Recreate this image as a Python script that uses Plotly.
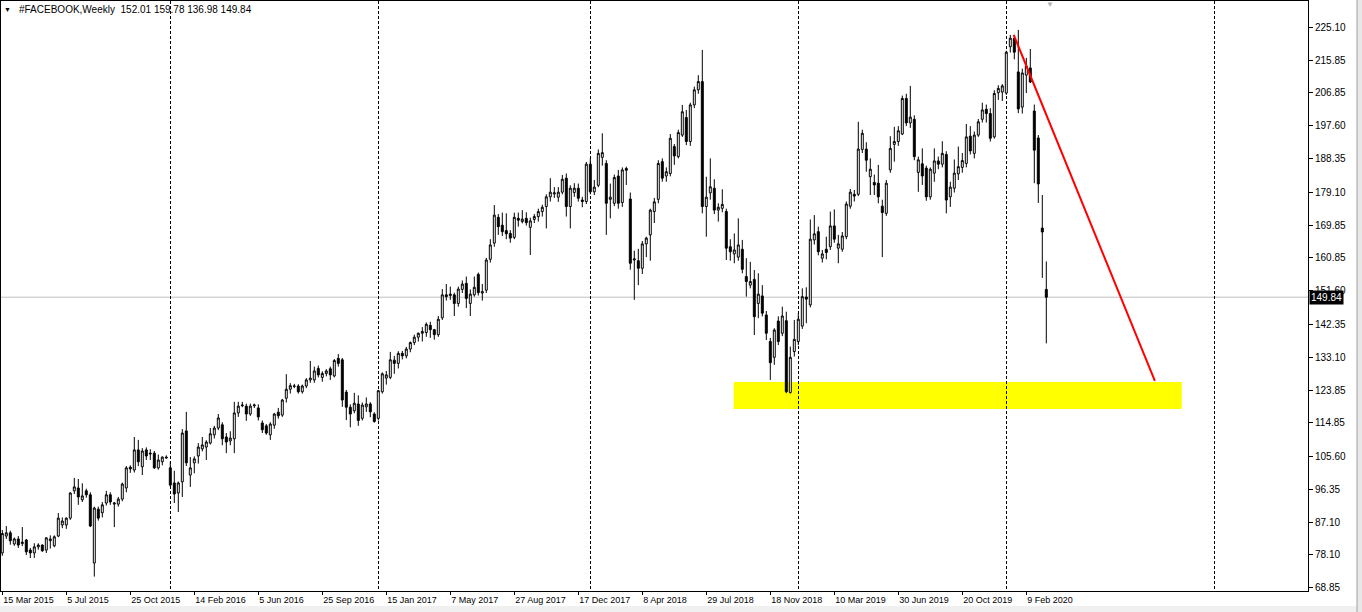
import numpy as np
import pandas as pd
import plotly.graph_objects as go

# ---------------- data (weekly bars, first bar = week of 15 Mar 2015) ----------------
first_bar = "2015-03-15"

opens = [78.6, 83.3, 84.2, 81.1, 82.5, 81.2, 82.2, 79.4, 78.6, 80.3,
         80.8, 79.4, 82.0, 80.6, 83.3, 86.4, 86.4, 88.3, 95.9, 96.7,
         93.4, 95.9, 94.8, 75.8, 90.8, 89.8, 92.5, 94.8, 92.2, 92.2,
         93.6, 96.7, 102.5, 101.7, 107.3, 102.6, 107.3, 106.4, 106.4, 102.3,
         104.0, 105.3, 102.3, 98.1, 95.3, 98.4, 112.6, 100.3, 103.7, 105.6,
         107.6, 108.1, 109.2, 111.5, 113.4, 114.3, 110.9, 109.8, 110.4, 117.6,
         119.6, 119.5, 117.3, 119.6, 119.0, 114.8, 114.0, 111.5, 114.2, 117.8,
         117.0, 121.7, 124.2, 125.0, 125.1, 123.5, 125.1, 126.8, 126.8, 130.0,
         127.5, 128.6, 129.9, 127.9, 132.8, 132.4, 123.4, 119.2, 118.2, 120.1,
         116.1, 119.3, 120.1, 117.3, 116.1, 123.5, 127.3, 127.5, 132.3, 131.4,
         134.2, 133.5, 135.4, 137.2, 138.7, 139.8, 140.0, 142.0, 140.8, 139.4,
         144.1, 150.5, 150.3, 150.5, 148.1, 152.0, 153.7, 148.1, 150.5, 156.2,
         151.0, 151.8, 160.4, 164.9, 172.1, 169.9, 168.4, 167.6, 166.5, 171.8,
         170.9, 171.8, 169.3, 171.5, 172.3, 173.7, 175.1, 177.8, 178.6, 177.7,
         179.1, 183.0, 175.1, 179.0, 180.2, 176.9, 176.5, 186.9, 179.2, 181.0,
         188.8, 187.1, 177.1, 176.0, 183.6, 176.2, 185.7, 177.2, 160.2, 160.0,
         157.9, 164.7, 167.2, 173.7, 177.1, 187.6, 183.6, 184.3, 191.8, 189.0,
         195.0, 199.9, 193.2, 203.4, 207.6, 209.9, 175.1, 178.9, 180.2, 174.1,
         174.6, 173.7, 163.9, 161.9, 161.0, 163.2, 155.6, 153.2, 154.8, 148.1,
         150.2, 144.9, 137.5, 133.1, 143.2, 139.8, 143.3, 123.3, 134.7, 137.5,
         141.8, 149.9, 147.7, 165.8, 168.1, 160.7, 163.2, 163.9, 169.7, 163.5,
         163.2, 166.7, 175.2, 178.5, 178.5, 191.0, 191.1, 183.4, 181.8, 181.6,
         175.2, 173.2, 185.3, 192.4, 193.2, 195.3, 205.2, 198.4, 199.4, 184.6,
         187.0, 185.8, 177.8, 184.4, 187.8, 186.9, 189.6, 177.8, 180.2, 184.2,
         186.0, 187.1, 194.7, 189.9, 195.0, 199.4, 202.2, 201.0, 194.5, 206.8,
         207.0, 206.7, 219.6, 221.9, 212.6, 202.8, 211.7, 213.7, 201.7, 194.2,
         169.1, 152.01]

highs = [85.0, 86.1, 84.8, 82.9, 83.3, 85.8, 82.5, 80.0, 81.3, 81.3,
         81.0, 83.0, 83.5, 83.5, 89.7, 88.5, 88.5, 95.5, 99.5, 99.2,
         98.0, 96.5, 95.5, 91.5, 91.5, 92.8, 95.9, 95.5, 92.8, 94.2,
         98.2, 102.8, 103.0, 110.9, 110.1, 107.8, 108.0, 107.5, 107.0, 106.0,
         105.5, 105.8, 104.0, 101.5, 98.5, 113.1, 117.9, 105.3, 105.5, 109.2,
         110.9, 110.0, 113.4, 114.0, 117.3, 115.0, 112.0, 112.5, 120.7, 120.7,
         120.7, 120.2, 120.2, 120.2, 120.0, 115.5, 114.5, 115.0, 117.6, 119.0,
         121.5, 128.4, 125.9, 125.7, 125.6, 125.5, 127.3, 132.1, 130.5, 130.8,
         129.2, 129.8, 130.5, 132.6, 134.0, 132.9, 124.0, 120.0, 123.2, 122.5,
         120.5, 121.9, 120.6, 117.8, 124.0, 128.9, 129.3, 134.6, 133.5, 134.8,
         134.9, 136.0, 137.5, 139.4, 140.0, 141.5, 142.8, 143.0, 141.0, 144.6,
         152.1, 153.5, 152.8, 151.1, 152.8, 154.5, 155.6, 152.0, 155.6, 156.7,
         153.5, 160.8, 166.0, 175.5, 173.0, 173.4, 173.2, 168.5, 173.4, 173.4,
         174.1, 173.5, 172.0, 173.0, 174.5, 175.6, 178.5, 183.0, 180.5, 180.5,
         183.9, 184.3, 181.0, 181.6, 181.5, 177.8, 187.5, 188.5, 182.5, 191.0,
         195.5, 188.0, 181.5, 184.0, 185.3, 186.0, 186.2, 179.0, 162.8, 163.3,
         165.5, 166.7, 174.5, 177.5, 188.0, 188.5, 186.0, 195.3, 192.5, 196.5,
         203.4, 202.0, 204.0, 208.5, 211.7, 218.7, 183.4, 188.5, 182.7, 176.0,
         179.9, 174.5, 166.0, 167.6, 171.8, 165.8, 160.7, 159.7, 157.4, 156.5,
         153.2, 146.0, 138.5, 141.2, 144.5, 147.2, 145.8, 136.1, 143.5, 145.4,
         152.3, 152.6, 171.5, 172.7, 169.5, 163.0, 166.7, 173.7, 174.3, 167.2,
         168.0, 176.5, 180.0, 179.7, 198.7, 196.5, 193.0, 188.5, 184.0, 186.7,
         177.0, 182.5, 194.7, 197.3, 197.5, 206.0, 206.5, 208.7, 200.5, 189.0,
         191.3, 186.5, 186.0, 191.3, 189.0, 193.3, 190.5, 182.0, 188.2, 191.8,
         190.0, 198.1, 197.5, 196.0, 199.5, 204.0, 203.5, 202.5, 207.5, 208.9,
         209.2, 218.5, 222.9, 222.9, 224.3, 213.5, 216.5, 219.0, 203.5, 195.0,
         178.3, 159.78]

lows = [77.8, 82.5, 80.9, 80.6, 80.0, 80.5, 78.0, 77.2, 77.2, 79.5,
        78.9, 78.6, 79.8, 80.2, 83.0, 85.5, 85.3, 87.8, 95.0, 92.0,
        92.8, 94.0, 85.8, 72.0, 87.6, 88.5, 91.8, 92.0, 85.8, 91.5,
        93.0, 95.5, 100.9, 101.0, 102.8, 100.3, 104.5, 104.5, 102.0, 101.8,
        103.0, 104.8, 97.0, 92.5, 90.0, 94.2, 102.8, 97.0, 100.8, 103.5,
        106.9, 104.5, 108.8, 110.5, 112.8, 108.6, 106.4, 108.6, 106.4, 116.5,
        119.2, 115.4, 116.8, 119.0, 115.5, 112.0, 111.5, 110.1, 113.2, 116.0,
        116.5, 120.5, 123.0, 124.5, 123.0, 123.0, 124.5, 126.0, 126.0, 127.5,
        126.3, 127.8, 126.8, 127.5, 130.5, 119.3, 115.6, 113.6, 117.5, 114.0,
        115.5, 117.9, 116.4, 114.9, 115.5, 123.0, 125.5, 127.0, 128.5, 130.0,
        132.5, 132.8, 134.5, 136.5, 137.5, 137.5, 138.8, 138.5, 138.0, 138.8,
        143.5, 148.9, 149.1, 144.6, 147.2, 151.0, 146.8, 144.6, 150.0, 150.3,
        148.9, 151.0, 159.5, 163.9, 167.2, 166.9, 166.0, 165.0, 166.0, 169.5,
        170.4, 169.8, 161.6, 170.5, 170.9, 172.3, 169.0, 176.5, 177.5, 176.4,
        178.5, 172.3, 169.0, 177.8, 176.5, 174.9, 175.8, 178.5, 178.3, 180.5,
        186.5, 167.2, 171.8, 175.2, 174.5, 175.0, 181.1, 157.5, 149.1, 153.2,
        156.3, 161.0, 160.0, 170.5, 176.0, 182.0, 182.0, 183.5, 186.7, 188.5,
        194.5, 192.2, 192.0, 202.5, 206.5, 173.2, 166.7, 177.0, 173.0, 170.9,
        173.5, 160.2, 160.0, 159.3, 160.0, 156.5, 150.0, 152.3, 139.3, 144.0,
        144.5, 137.9, 126.8, 131.0, 136.5, 139.0, 123.1, 123.0, 133.3, 136.5,
        141.0, 142.6, 147.0, 164.5, 161.5, 159.5, 160.4, 163.0, 165.0, 159.3,
        162.5, 166.0, 174.5, 176.5, 178.0, 190.0, 184.8, 178.3, 178.3, 176.0,
        161.0, 172.5, 184.5, 187.6, 192.0, 195.0, 197.5, 197.0, 188.0, 179.2,
        181.1, 176.7, 177.0, 182.0, 185.5, 186.0, 173.2, 175.0, 179.0, 182.5,
        184.5, 186.0, 189.6, 188.5, 194.5, 198.5, 198.5, 193.2, 194.0, 204.8,
        204.5, 206.2, 218.0, 216.1, 201.1, 201.0, 206.7, 209.5, 181.6, 176.1,
        155.2, 136.98]

closes = [84.0, 84.2, 82.0, 82.5, 80.8, 81.6, 78.9, 78.6, 80.3, 80.8,
          79.2, 82.8, 82.5, 83.1, 88.3, 87.5, 88.3, 95.3, 97.0, 94.2,
          94.5, 94.8, 86.1, 91.1, 88.3, 92.0, 94.8, 92.8, 92.5, 93.6,
          97.8, 102.3, 102.0, 107.3, 104.0, 107.0, 105.6, 106.2, 102.3, 104.5,
          105.3, 105.1, 97.5, 95.0, 98.1, 112.0, 103.7, 102.3, 104.8, 108.1,
          108.7, 109.5, 111.8, 113.4, 116.2, 110.4, 109.5, 110.6, 117.6, 119.5,
          119.8, 117.3, 119.5, 119.8, 116.5, 112.9, 112.0, 114.5, 117.3, 116.8,
          121.2, 124.2, 125.2, 125.1, 123.5, 125.1, 126.8, 127.3, 129.3, 128.2,
          128.6, 129.3, 128.2, 132.2, 131.4, 121.2, 119.2, 117.3, 120.3, 115.5,
          119.8, 120.1, 117.9, 115.2, 123.8, 128.5, 128.2, 132.4, 131.4, 134.2,
          133.5, 135.4, 137.2, 138.7, 139.8, 140.3, 142.3, 140.8, 139.4, 143.7,
          150.5, 150.0, 150.7, 148.1, 152.1, 153.5, 149.5, 150.7, 152.6, 151.1,
          151.4, 160.2, 164.4, 172.7, 169.5, 168.1, 167.5, 166.3, 172.1, 171.3,
          171.6, 170.6, 171.1, 172.3, 173.7, 174.9, 177.8, 179.1, 178.9, 179.1,
          182.7, 175.1, 180.2, 180.2, 177.4, 176.5, 186.9, 179.2, 180.5, 189.9,
          190.1, 176.0, 177.7, 183.2, 176.0, 185.3, 185.2, 159.3, 160.5, 157.9,
          164.7, 166.3, 174.1, 176.4, 187.1, 183.0, 184.8, 194.1, 189.2, 195.7,
          201.5, 193.2, 203.4, 207.6, 209.9, 175.1, 177.7, 180.6, 174.1, 174.9,
          175.7, 163.5, 162.5, 163.0, 164.4, 157.6, 154.2, 154.2, 144.4, 150.7,
          145.4, 139.8, 131.6, 140.7, 137.5, 144.6, 123.5, 133.1, 138.1, 143.7,
          150.0, 149.3, 166.0, 167.5, 162.5, 161.9, 162.3, 169.7, 166.0, 164.7,
          166.9, 175.8, 179.1, 178.0, 191.1, 195.5, 188.0, 185.5, 181.1, 177.8,
          173.4, 181.6, 191.3, 193.2, 196.2, 205.2, 198.4, 200.0, 189.0, 188.1,
          183.6, 177.8, 185.5, 187.8, 186.9, 189.9, 176.9, 180.5, 184.4, 186.2,
          187.9, 194.5, 190.6, 195.0, 198.7, 202.0, 201.0, 194.1, 206.6, 208.0,
          208.7, 218.1, 222.0, 218.1, 202.3, 212.3, 214.2, 209.8, 190.8, 181.4,
          168.0, 149.84]

x_tick_labels = ["15 Mar 2015", "5 Jul 2015", "25 Oct 2015", "14 Feb 2016", "5 Jun 2016",
                 "25 Sep 2016", "15 Jan 2017", "7 May 2017", "27 Aug 2017", "17 Dec 2017",
                 "8 Apr 2018", "29 Jul 2018", "18 Nov 2018", "10 Mar 2019", "30 Jun 2019",
                 "20 Oct 2019", "9 Feb 2020"]
x_tick_step = 16

y_tick_vals = [225.10, 215.85, 206.85, 197.60, 188.35, 179.10, 169.85, 160.85, 151.60,
               142.35, 133.10, 123.85, 114.85, 105.60, 96.35, 87.10, 78.10, 68.85]
y_tick_text = ["225.10", "215.85", "206.85", "197.60", "188.35", "179.10", "169.85", "160.85",
               "151.60", "142.35", "133.10", "123.85", "114.85", "105.60", "96.35", "87.10",
               "78.10", "68.85"]

year_separators = ["2016-01-03", "2017-01-01", "2018-01-07", "2019-01-06", "2020-01-05", "2021-01-03"]

last_price = 149.84
title_text = "#FACEBOOK,Weekly  152.01 159.78 136.98 149.84"

support_zone_dates = ["2018-09-15", "2020-11-07"]
support_zone_prices = [118.7, 126.2]
trend_dates = ["2020-01-18", "2020-09-21"]
trend_prices = [222.9, 126.5]

# ---------------- build ----------------
n = len(closes)
assert len(opens) == len(highs) == len(lows) == n == 262
base = pd.Timestamp(first_bar)
dates = [base + pd.Timedelta(days=7 * i) for i in range(n)]

W, H = 1362, 612
ml, mr, mt, mb = 1, 54, 1, 21
plot_w = W - ml - mr
plot_h = H - mt - mb
bar_px = 4.0
first_bar_px = 2.3
i_left = (ml - first_bar_px) / bar_px
i_right = (ml + plot_w - first_bar_px) / bar_px
x_range = [base + pd.Timedelta(days=7 * i_left), base + pd.Timedelta(days=7 * i_right)]
y_range = [68.0, 232.35]

FONT = "Liberation Sans, Arial, sans-serif"

fig = go.Figure()
fig.add_trace(go.Candlestick(
    x=dates, open=opens, high=highs, low=lows, close=closes,
    increasing=dict(fillcolor="white", line=dict(color="black", width=1)),
    decreasing=dict(fillcolor="black", line=dict(color="black", width=1)),
    whiskerwidth=0, hoverinfo="skip", showlegend=False,
))

# yellow zone
fig.add_shape(type="rect", xref="x", yref="y",
              x0=support_zone_dates[0], x1=support_zone_dates[1],
              y0=support_zone_prices[0], y1=support_zone_prices[1],
              fillcolor="#ffff00", line=dict(width=0), layer="below")
# bid line
fig.add_shape(type="line", xref="paper", yref="y", x0=0, x1=1,
              y0=last_price, y1=last_price, line=dict(color="#c0c0c0", width=1), layer="below")
# red trend line
fig.add_shape(type="line", xref="x", yref="y",
              x0=trend_dates[0], y0=trend_prices[0], x1=trend_dates[1], y1=trend_prices[1],
              line=dict(color="#ff0000", width=2), layer="above")

tick_dates = [dates[i] for i in range(0, n, x_tick_step)][:len(x_tick_labels)]

fig.update_layout(
    width=W, height=H,
    margin=dict(l=ml, r=mr, t=mt, b=mb, pad=0, autoexpand=False),
    paper_bgcolor="white", plot_bgcolor="white",
    font=dict(family=FONT, size=10, color="black"),
    showlegend=False,
    xaxis=dict(
        type="date", range=x_range, rangeslider=dict(visible=False),
        tickmode="array", tickvals=tick_dates, ticktext=x_tick_labels,
        tickangle=0, automargin=False,
        ticks="outside", ticklen=3, tickcolor="black", tickwidth=1,
        ticklabelposition="outside right",
        showgrid=False, zeroline=False,
        showline=True, linecolor="black", linewidth=1, mirror=True,
        tickfont=dict(family=FONT, size=9, color="black"),
        minor=dict(tickmode="array", tickvals=year_separators, showgrid=True,
                   gridcolor="black", gridwidth=1, griddash="3px,2px", ticks=""),
    ),
    yaxis=dict(
        side="right", range=y_range, automargin=False,
        tickmode="array", tickvals=y_tick_vals, ticktext=y_tick_text,
        ticks="outside", ticklen=4, tickcolor="black", tickwidth=1,
        showgrid=False, zeroline=False,
        showline=True, linecolor="black", linewidth=1, mirror=True,
        tickfont=dict(family=FONT, size=10, color="black"),
    ),
)

def px_to_paper_x(px):
    return (px - ml) / plot_w

def px_to_paper_y(py):
    return (H - mb - py) / plot_h

# title + icon
fig.add_annotation(xref="paper", yref="paper", x=px_to_paper_x(17), y=px_to_paper_y(9),
                   xanchor="left", yanchor="middle", showarrow=False,
                   text=title_text, font=dict(family=FONT, size=10, color="black"))
fig.add_annotation(xref="paper", yref="paper", x=px_to_paper_x(7), y=px_to_paper_y(9),
                   xanchor="center", yanchor="middle", showarrow=False,
                   text="▼", font=dict(family=FONT, size=7, color="black"))
# chart shift marker
fig.add_annotation(xref="paper", yref="paper", x=px_to_paper_x(1050), y=px_to_paper_y(4),
                   xanchor="center", yanchor="middle", showarrow=False,
                   text="▼", font=dict(family=FONT, size=8, color="#b4b4b4"))
# last price box
fig.add_annotation(xref="paper", yref="y", x=1, y=last_price, xshift=1,
                   xanchor="left", yanchor="middle", showarrow=False,
                   text=f"{last_price:.2f}", bgcolor="black", borderpad=1,
                   font=dict(family=FONT, size=10, color="white"))

# window frame strips (bottom and right)
fig.add_shape(type="rect", xref="paper", yref="paper",
              x0=px_to_paper_x(0), x1=px_to_paper_x(W), y0=px_to_paper_y(606), y1=px_to_paper_y(H),
              fillcolor="#f0f0f0", line=dict(width=0), layer="above")
fig.add_shape(type="rect", xref="paper", yref="paper",
              x0=px_to_paper_x(1357), x1=px_to_paper_x(W), y0=px_to_paper_y(0), y1=px_to_paper_y(H),
              fillcolor="#e8e8e8", line=dict(width=0), layer="above")
fig.add_shape(type="line", xref="paper", yref="paper",
              x0=px_to_paper_x(1357), x1=px_to_paper_x(1357), y0=px_to_paper_y(0), y1=px_to_paper_y(H),
              line=dict(color="#a0a0a0", width=1), layer="above")

fig.write_html(
    "out.html",
    config={"displayModeBar": False},
    post_script="document.body.style.margin='0px';document.body.style.overflow='hidden';",
)
